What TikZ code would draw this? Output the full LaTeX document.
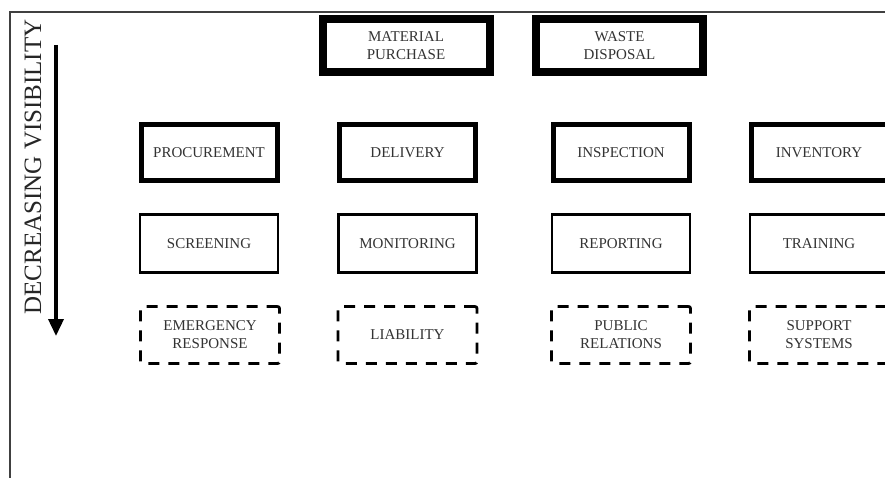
\documentclass[tikz,border=0pt]{standalone}
\usepackage{fontspec}
\setmainfont{Liberation Serif}
\usetikzlibrary{arrows.meta}
\begin{document}
\begin{tikzpicture}[x=1pt,y=-1pt,
  box/.style={draw=black, rectangle, inner sep=0pt, align=center,
    text=black!80, font=\fontsize{15}{18}\selectfont},
  heavybox/.style={box, line width=8pt, minimum width=167pt, minimum height=53pt},
  midbox/.style={box, line width=5pt, minimum width=136pt, minimum height=56pt},
  thinbox/.style={box, line width=2.4pt, minimum width=138pt, minimum height=58pt},
  dashbox/.style={box, line width=2.8pt, dash pattern=on 11pt off 9pt,
    rounded corners=2pt, minimum width=139pt, minimum height=57pt},
  frameline/.style={draw=black!75, line width=1.2pt},
  axislabel/.style={rotate=90, text=black!85, font=\fontsize{25}{28}\selectfont}]
  \useasboundingbox (0,0) rectangle (885,478);

  % frame edges
  \draw[frameline] (10,478) -- (10,12) -- (885,12);

  % visibility axis
  \node[axislabel] (vislabel) at (33,167) {DECREASING VISIBILITY};
  \coordinate (axisTop) at (56,45);
  \coordinate (axisTip) at (56,336);
  \draw[line width=3.6pt, -{Triangle[width=15pt,length=17pt]}] (axisTop) -- (axisTip);

  % top level
  \node[heavybox] (purchase) at (406,45.5) {MATERIAL\\PURCHASE};
  \node[heavybox] (disposal) at (619.5,45.5) {WASTE\\DISPOSAL};

  % second level
  \node[midbox] (procure)  at (209,152.5)   {PROCUREMENT};
  \node[midbox] (delivery) at (407.5,152.5) {DELIVERY};
  \node[midbox] (inspect)  at (621,152.5)   {INSPECTION};
  \node[midbox] (invent)   at (819,152.5)   {INVENTORY};

  % third level
  \node[thinbox] (screen)  at (209,243.5)   {SCREENING};
  \node[thinbox] (monitor) at (407.5,243.5) {MONITORING};
  \node[thinbox] (report)  at (621,243.5)   {REPORTING};
  \node[thinbox] (train)   at (819,243.5)   {TRAINING};

  % lowest level
  \node[dashbox] (emerg)   at (210,335)   {EMERGENCY\\RESPONSE};
  \node[dashbox] (liab)    at (407.5,335) {LIABILITY};
  \node[dashbox] (public)  at (621,335)   {PUBLIC\\RELATIONS};
  \node[dashbox] (support) at (819,335)   {SUPPORT\\SYSTEMS};
\end{tikzpicture}
\end{document}
